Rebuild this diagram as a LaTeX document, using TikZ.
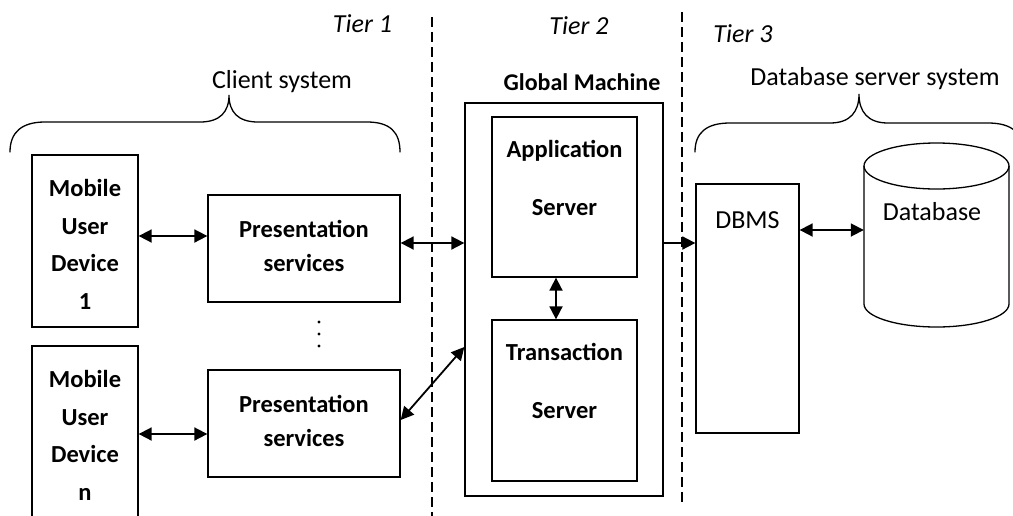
\documentclass[tikz,border=0pt]{standalone}
\usepackage{fontspec}
\setmainfont{Carlito}
\usetikzlibrary{arrows.meta}
\begin{document}
\begin{tikzpicture}[x=1pt,y=-1pt,
  box/.style={draw, line width=1.3pt, inner sep=0pt},
  boxlbl/.style={font=\fontsize{24.5}{#1}\selectfont\bfseries, align=center, inner sep=0pt, anchor=base},
  plain/.style={font=\fontsize{26}{30}\selectfont, inner sep=0pt, anchor=base},
  tier/.style={font=\fontsize{26}{30}\selectfont\itshape, inner sep=0pt, anchor=base},
  brace/.style={line width=1.3pt, line cap=round},
  tierline/.style={line width=1.1pt, dash pattern=on 10pt off 5pt},
  tip/.tip={Triangle[length=13pt,width=13pt]},
  both/.style={line width=1.8pt, tip-tip},
  one/.style={line width=1.8pt, -tip}]
\useasboundingbox (0,0) rectangle (1013,515);
\clip (0,0) rectangle (1013,515);

% tier separators
\draw[tierline] (432,17) -- (432,520);
\draw[tierline] (682,12) -- (682,505);
\node[tier] (tier1) at (362.5,32) {Tier 1};
\node[tier] (tier2) at (579,34) {Tier 2};
\node[tier] (tier3) at (743,42) {Tier 3};

% client side
\node[plain] (client) at (282,88) {Client system};
\draw[brace] (10,152) .. controls (10,132) and (22,122) .. (45,122) -- (200,122)
  .. controls (220,122) and (229,112) .. (229,95)
  .. controls (229,112) and (238,122) .. (258,122) -- (367,122)
  .. controls (390,122) and (400,132) .. (400,152);

% multi-line labels are placed by the baseline of their last line
\node[box, minimum width=106pt, minimum height=172pt] (dev1) at (85,241) {};
\node[boxlbl=37.5] (dev1t) at (85,309) {Mobile\\User\\Device\\1};
\node[box, minimum width=106pt, minimum height=181pt] (devn) at (85,436.5) {};
\node[boxlbl=37.5] (devnt) at (85,500) {Mobile\\User\\Device\\n};

\node[box, minimum width=192pt, minimum height=107pt] (pres1) at (304,248.5) {};
\node[boxlbl=34] (pres1t) at (304,271) {Presentation\\services};
\node[box, minimum width=192pt, minimum height=107pt] (pres2) at (304,423.5) {};
\node[boxlbl=34] (pres2t) at (304,446) {Presentation\\services};

\foreach \yy in {322,334,346} \fill (319,\yy) circle[radius=1.6pt];

% global machine
\node[font=\fontsize{24}{30}\selectfont\bfseries, inner sep=0pt, anchor=base] (gmt) at (582,90) {Global Machine};
\node[box, minimum width=198pt, minimum height=393pt] (gm) at (564,299.5) {};
\node[box, minimum width=145pt, minimum height=160pt] (app) at (564.5,197) {};
\node[boxlbl=58] (appt) at (564.5,215) {Application\\Server};
\node[box, minimum width=145pt, minimum height=161pt] (trans) at (564.5,400.5) {};
\node[boxlbl=58] (transt) at (564.5,418) {Transaction\\Server};

% database server side
\node[plain] (dbside) at (875,85) {Database server system};
\draw[brace] (695,152) .. controls (695,133) and (706,123) .. (730,123) -- (830,123)
  .. controls (850,123) and (859,112) .. (859,94)
  .. controls (859,112) and (868,123) .. (888,123) -- (988,123)
  .. controls (1012,123) and (1023,133) .. (1023,152);

\node[box, minimum width=103pt, minimum height=249pt] (dbms) at (747.5,308.5) {};
\node[plain] (dbmst) at (747.5,228) {DBMS};

\node[inner sep=0pt, minimum width=145pt, minimum height=184pt] (db) at (936.5,235) {};
\draw[line width=1.3pt] (936.5,166) ellipse[x radius=72.5pt, y radius=23pt];
\draw[line width=1.3pt] (864,166) -- (864,304)
  arc[start angle=180, end angle=360, x radius=72.5pt, y radius=23pt] -- (1009,166);
\node[plain] (dbt) at (932,220) {Database};

% connectors
\draw[both] ([yshift=5pt]dev1.east) -- ([yshift=5pt]dev1.east -| pres1.west);
\draw[both] ([yshift=2.5pt]devn.east) -- ([yshift=2.5pt]devn.east -| pres2.west);
\draw[both] ([yshift=5.5pt]pres1.east) -- ([yshift=5.5pt]pres1.east -| gm.west);
\draw[both] ([yshift=3.5pt]pres2.east) -- ([yshift=-47.5pt]gm.west);
\draw[both] ([xshift=-8.5pt]app.south) -- ([xshift=-8.5pt]trans.north);
\draw[one] ([yshift=56.5pt]gm.east) -- ([yshift=56.5pt]gm.east -| dbms.west);
\draw[both] ([yshift=78.5pt]dbms.east) -- ([yshift=78.5pt]dbms.east -| db.west);
\end{tikzpicture}
\end{document}
